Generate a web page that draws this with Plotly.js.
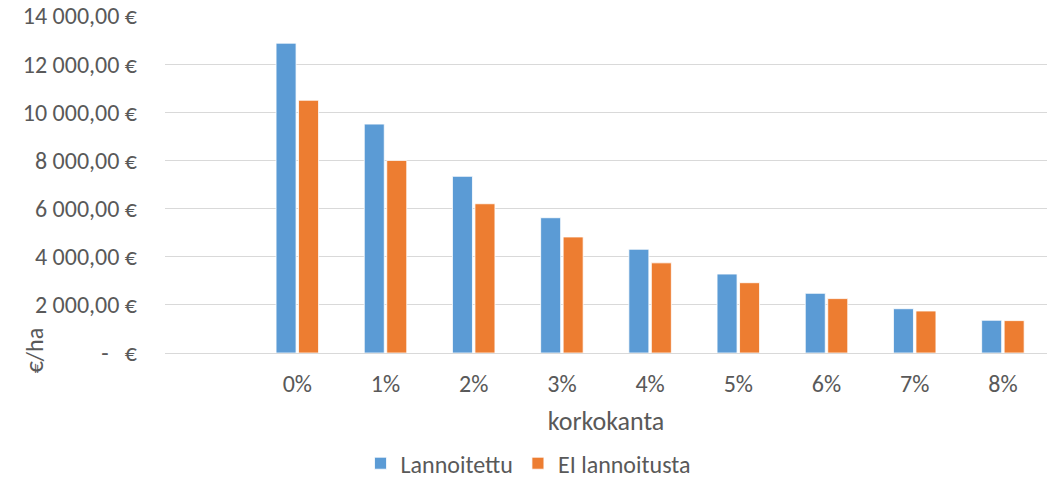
<!DOCTYPE html>
<html>
<head>
<meta charset="utf-8">
<script src="https://cdn.plot.ly/plotly-3.0.1.min.js"></script>
<style>html,body{margin:0;padding:0;background:#fff;}#chart{width:1056px;height:486px;}</style>
</head>
<body>
<div id="chart"></div>
<script>
var categories = [" ", "0%", "1%", "2%", "3%", "4%", "5%", "6%", "7%", "8%"];
var lannoitettu = [null, 12870, 9510, 7340, 5620, 4310, 3280, 2480, 1840, 1360];
var eiLannoitusta = [null, 10500, 8000, 6200, 4820, 3745, 2920, 2260, 1745, 1345];
var yTickVals = [0, 2000, 4000, 6000, 8000, 10000, 12000, 14000];
var yTickText = ["-\u00a0\u00a0\u00a0€", "2 000,00 €", "4 000,00 €", "6 000,00 €", "8 000,00 €", "10 000,00 €", "12 000,00 €", "14 000,00 €"];

var FONT = "Calibri, Carlito, Lato, 'Open Sans', sans-serif";
var data = [
  {type: "bar", name: "Lannoitettu", x: categories, y: lannoitettu,
   marker: {color: "#5B9BD5", line: {color: "#FFFFFF", width: 0.8}}},
  {type: "bar", name: "EI lannoitusta", x: categories, y: eiLannoitusta,
   marker: {color: "#ED7D31", line: {color: "#FFFFFF", width: 0.8}}}
];
var layout = {
  width: 1056, height: 486,
  margin: {l: 165, r: 9, t: 15.5, b: 133.3, pad: 0, autoexpand: false},
  paper_bgcolor: "#FFFFFF", plot_bgcolor: "#FFFFFF",
  font: {family: FONT, color: "#595959", size: 24},
  barmode: "group", bargap: 0.49, bargroupgap: 0.11,
  showlegend: true,
  legend: {orientation: "h", x: 0.4116, xref: "paper", xanchor: "center", y: -0.395, yanchor: "bottom",
           font: {size: 24, color: "#595959"}, itemwidth: 30, tracegroupgap: 0, borderwidth: 0},
  xaxis: {type: "category", range: [-0.5, 9.5], showgrid: false, zeroline: false,
          showline: false, ticks: "", tickfont: {size: 24, color: "#595959"},
          ticklabelstandoff: 14, tickangle: 0, automargin: false,
          tickvals: categories, ticktext: categories,
          title: {text: "korkokanta", font: {size: 26, color: "#595959"}, standoff: 14},
          fixedrange: true},
  yaxis: {range: [0, 14000], tickvals: yTickVals, ticktext: yTickText, automargin: false,
          showgrid: true, gridcolor: "#D9D9D9", gridwidth: 1, zeroline: true,
          zerolinecolor: "#D9D9D9", zerolinewidth: 1, showline: false, ticks: "",
          ticklabelstandoff: 27,
          tickfont: {size: 24, color: "#595959"}, fixedrange: true},
  annotations: [{text: "€/ha", xref: "paper", yref: "paper", x: -0.1485, y: 0.008,
                 xanchor: "center", yanchor: "middle", textangle: -90, showarrow: false,
                 font: {size: 24, color: "#595959"}}]
};
Plotly.newPlot("chart", data, layout, {displayModeBar: false, staticPlot: true});
</script>
</body>
</html>
